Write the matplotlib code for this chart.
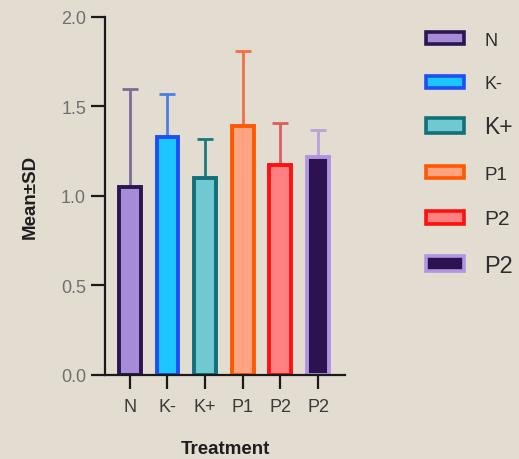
import numpy as np
from matplotlib import pyplot as plt
from matplotlib.patches import Patch

plt.rcParams["font.family"] = ["Liberation Sans", "DejaVu Sans"]

groups = ["N", "K-", "K+", "P1", "P2", "P2"]
means = [1.05, 1.33, 1.10, 1.39, 1.17, 1.22]
sds = [0.55, 0.24, 0.22, 0.42, 0.24, 0.15]

fills = ["#a68bd6", "#1ec6ff", "#70c8d0", "#ffa47e", "#ff8080", "#2c1250"]
edges = ["#2b1652", "#1f4ef5", "#11707a", "#ff5800", "#ff1010", "#b096e0"]
err_colors = ["#7b6c94", "#4a7ee6", "#1d787e", "#f07044", "#dc5e5e", "#b8a2d8"]

# legend: font size per entry and vertical centre in pixels
legend_sizes = [13, 13, 16.5, 13.5, 15, 17]
legend_y = [41, 85, 128, 175, 220, 267]

bg = "#e3ddd1"
W, H = 519, 460

fig = plt.figure(figsize=(W / 100, H / 100), dpi=100, facecolor=bg)
ax = fig.add_axes([0.202, 0.183, 0.463, 0.778], facecolor=bg)

x = np.arange(len(groups))
for i in range(len(groups)):
    ax.errorbar(x[i], means[i], yerr=[[0], [sds[i]]], fmt="none",
                ecolor=err_colors[i], elinewidth=2, capsize=5.5, capthick=2, zorder=1)
    ax.bar(x[i], means[i], width=0.58, color=fills[i], edgecolor=edges[i],
           linewidth=2.8, zorder=2)

ax.set_xlim(-0.665, 5.72)
ax.set_ylim(0, 2.0)
ax.set_yticks([0.0, 0.5, 1.0, 1.5, 2.0])
ax.set_yticklabels(["0.0", "0.5", "1.0", "1.5", "2.0"])
ax.set_xticks(x)
ax.set_xticklabels(groups)

for side in ["top", "right"]:
    ax.spines[side].set_visible(False)
for side in ["left", "bottom"]:
    ax.spines[side].set_linewidth(1.6)
    ax.spines[side].set_color("#1a1a1a")

ax.tick_params(axis="y", length=10, width=1.6, colors="#1a1a1a", labelcolor="#707070",
               labelsize=13, pad=3.5)
ax.tick_params(axis="x", length=10, width=1.6, colors="#1a1a1a", labelcolor="#3a3a3a",
               labelsize=13, pad=7)

ax.set_xlabel("Treatment", fontsize=13.5, fontweight="bold", color="#1e1e1e", labelpad=18)
ax.set_ylabel("Mean±SD", fontsize=13.5, fontweight="bold", color="#1e1e1e", labelpad=16)

# one legend per entry so each can have its own size
for i in range(len(groups)):
    fs = legend_sizes[i]
    fs_px = fs * 100 / 72
    handle = Patch(facecolor=fills[i], edgecolor=edges[i], linewidth=2.6)
    leg = fig.legend([handle], [groups[i]], loc="center left",
                     bbox_to_anchor=(426 / W, 1 - legend_y[i] / H),
                     frameon=False, fontsize=fs, borderpad=0, borderaxespad=0,
                     handlelength=38 / fs_px, handleheight=0.6,
                     handletextpad=20 / fs_px, labelcolor="#2e2e2e")

fig.savefig("out.png", dpi=100, facecolor=bg)
